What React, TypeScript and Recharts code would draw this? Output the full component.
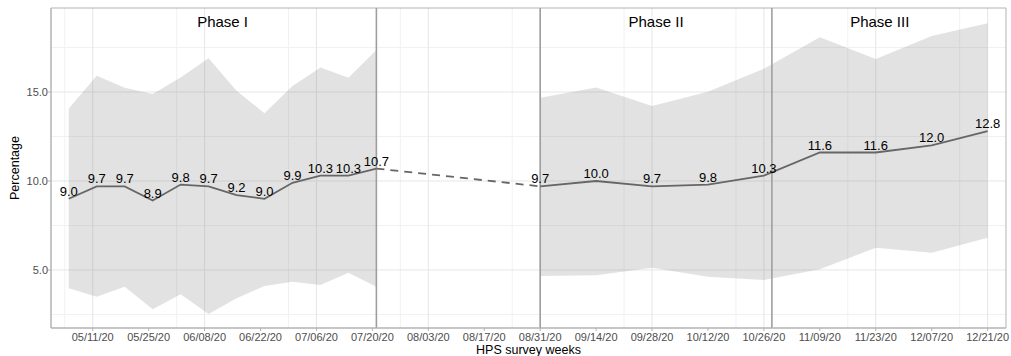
import {
  ComposedChart,
  Area,
  Line,
  XAxis,
  YAxis,
  CartesianGrid,
  ReferenceLine,
  ReferenceDot,
  ReferenceArea,
  LabelList,
} from 'recharts';

// HPS survey week end dates, estimates and 95% CI bounds
const phase1Weeks = [
  '2020-05-05', '2020-05-12', '2020-05-19', '2020-05-26', '2020-06-02', '2020-06-09',
  '2020-06-16', '2020-06-23', '2020-06-30', '2020-07-07', '2020-07-14', '2020-07-21',
];
const phase1Pct = [9.0, 9.7, 9.7, 8.9, 9.8, 9.7, 9.2, 9.0, 9.9, 10.3, 10.3, 10.7];
const phase1Low = [3.97, 3.5, 4.06, 2.79, 3.63, 2.53, 3.41, 4.1, 4.34, 4.16, 4.85, 4.06];
const phase1High = [14.08, 15.92, 15.24, 14.89, 15.82, 16.89, 15.07, 13.8, 15.34, 16.37, 15.8, 17.36];

const laterWeeks = [
  '2020-08-31', '2020-09-14', '2020-09-28', '2020-10-12', '2020-10-26',
  '2020-11-09', '2020-11-23', '2020-12-07', '2020-12-21',
];
const laterPct = [9.7, 10.0, 9.7, 9.8, 10.3, 11.6, 11.6, 12.0, 12.8];
const laterLow = [4.66, 4.7, 5.13, 4.62, 4.44, 5.04, 6.25, 5.97, 6.81];
const laterHigh = [14.68, 15.26, 14.21, 15.02, 16.3, 18.07, 16.85, 18.15, 18.86];

// phase dividers and the span each phase label sits over
const phaseLines = ['2020-07-21', '2020-08-31', '2020-10-28'];
const phaseNames = ['Phase I', 'Phase II', 'Phase III'];
const phaseSpans = [
  ['2020-05-05', '2020-07-21'],
  ['2020-08-31', '2020-10-28'],
  ['2020-10-28', '2020-12-21'],
];
const tickDates = [
  '2020-05-11', '2020-05-25', '2020-06-08', '2020-06-22', '2020-07-06', '2020-07-20',
  '2020-08-03', '2020-08-17', '2020-08-31', '2020-09-14', '2020-09-28', '2020-10-12',
  '2020-10-26', '2020-11-09', '2020-11-23', '2020-12-07', '2020-12-21',
];

const ORIGIN = Date.UTC(2020, 4, 5);
const DAY = 86400000;
const toDay = (s: string) => {
  const [y, m, d] = s.split('-').map(Number);
  return Math.round((Date.UTC(y, m - 1, d) - ORIGIN) / DAY);
};
const fmtDate = (d: number) => {
  const dt = new Date(ORIGIN + d * DAY);
  const mm = String(dt.getUTCMonth() + 1).padStart(2, '0');
  const dd = String(dt.getUTCDate()).padStart(2, '0');
  return `${mm}/${dd}/20`;
};

const rows: any[] = [];
phase1Weeks.forEach((w, i) =>
  rows.push({ day: toDay(w), pct: phase1Pct[i], lo: phase1Low[i], hi: phase1High[i] })
);
rows.push({ day: 97, pct: null, lo: null, hi: null });
laterWeeks.forEach((w, i) =>
  rows.push({ day: toDay(w), pct: laterPct[i], lo: laterLow[i], hi: laterHigh[i] })
);
// dashed bridge between end of phase I and start of phase II
rows[phase1Weeks.length - 1].bridge = phase1Pct[phase1Pct.length - 1];
rows[phase1Weeks.length + 1].bridge = laterPct[0];

const ticks = tickDates.map(toDay);
const minorX = ticks.map((t) => t - 7);
const xDomain = [-4.45, 234.6];
const yDomain = [1.74, 19.72];
const phaseMids = phaseSpans.map(([a, b]) => (toDay(a) + toDay(b)) / 2);

const font = 'Liberation Sans, Arial, Helvetica, sans-serif';

export default function App() {
  return (
    <div style={{ position: 'absolute', left: 0, top: 0, background: '#fff' }}>
      <ComposedChart
        width={1011}
        height={356}
        data={rows}
        margin={{ top: 8, right: 5, bottom: 0, left: 0 }}
        style={{ fontFamily: font }}
      >
        <CartesianGrid
          stroke="#F1F1F1"
          horizontalValues={[2.5, 7.5, 12.5, 17.5]}
          verticalValues={minorX}
        />
        <CartesianGrid stroke="#E6E6E6" horizontalValues={[5, 10, 15]} verticalValues={ticks} />
        <XAxis
          type="number"
          dataKey="day"
          domain={xDomain}
          allowDataOverflow
          ticks={ticks}
          tickFormatter={fmtDate}
          height={28}
          tickSize={3}
          tickMargin={2}
          tick={{ fill: '#4D4D4D', fontSize: 11 }}
          axisLine={{ stroke: '#B3B3B3' }}
          tickLine={{ stroke: '#B3B3B3' }}
          label={{ value: 'HPS survey weeks', position: 'insideBottom', offset: 2, fill: '#000', fontSize: 12.5 }}
        />
        <YAxis
          type="number"
          domain={yDomain}
          allowDataOverflow
          ticks={[5, 10, 15]}
          tickFormatter={(v: number) => v.toFixed(1)}
          width={51}
          tickSize={3}
          tickMargin={0}
          tick={{ fill: '#4D4D4D', fontSize: 11 }}
          axisLine={{ stroke: '#B3B3B3' }}
          tickLine={{ stroke: '#B3B3B3' }}
          label={{ value: 'Percentage', angle: -90, position: 'center', dx: -10.5, fill: '#000', fontSize: 12.5 }}
        />
        <Area
          dataKey={(d: any) => (d.lo == null ? null : [d.lo, d.hi])}
          stroke="none"
          fill="#808080"
          fillOpacity={0.23}
          isAnimationActive={false}
        />
        <ReferenceArea
          x1={xDomain[0]}
          x2={xDomain[1]}
          y1={yDomain[0]}
          y2={yDomain[1]}
          fill="none"
          stroke="#B3B3B3"
          ifOverflow="visible"
        />
        {phaseLines.map((p) => (
          <ReferenceLine key={p} x={toDay(p)} stroke="#9E9E9E" strokeWidth={1.6} />
        ))}
        {phaseNames.map((n, i) => (
          <ReferenceDot
            key={n}
            x={phaseMids[i]}
            y={18.93}
            r={0}
            fill="none"
            stroke="none"
            label={{ value: n, position: 'center', fill: '#000', fontSize: 15 }}
          />
        ))}
        <Line
          dataKey="bridge"
          stroke="#666666"
          strokeWidth={1.8}
          strokeDasharray="8 6"
          dot={false}
          connectNulls
          isAnimationActive={false}
        />
        <Line
          dataKey="pct"
          stroke="#666666"
          strokeWidth={1.8}
          dot={false}
          isAnimationActive={false}
        >
          <LabelList
            dataKey="pct"
            position="top"
            offset={3}
            fill="#000"
            fontSize={13}
            formatter={(v: any) => (v == null ? '' : Number(v).toFixed(1))}
          />
        </Line>
      </ComposedChart>
    </div>
  );
}
